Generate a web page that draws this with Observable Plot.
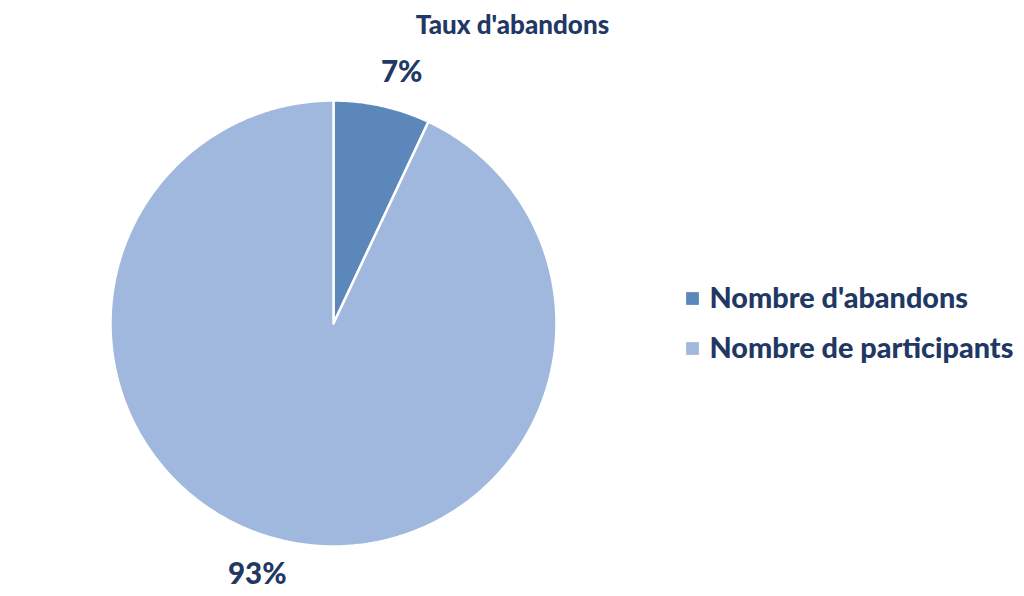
<!DOCTYPE html>
<html>
<head>
<meta charset="utf-8">
<script src="https://cdn.jsdelivr.net/npm/d3@7"></script>
<script src="https://cdn.jsdelivr.net/npm/@observablehq/plot@0.6"></script>
<style>
  html, body { margin: 0; padding: 0; background: #ffffff; }
  #chart svg { display: block; }
</style>
</head>
<body>
<div id="chart"></div>
<script>
// ---- data ----
const categories = ["Nombre d'abandons", "Nombre de participants"];
const shares = [7, 93];
const labels = ["7%", "93%"];
const colors = ["#5b87ba", "#a0b8dd"];
const title = "Taux d'abandons";

// ---- layout ----
const W = 1024, H = 596;
const cx = 333, cy = 323, R = 223;
const textColor = "#1f3864";
const font = "Lato, 'Open Sans', sans-serif";

// build slice polygons from the shares (clockwise from 12 o'clock)
const total = d3.sum(shares);
const slices = [];
const polys = [];
let acc = 0;
categories.forEach((name, i) => {
  const a0 = acc / total * 2 * Math.PI;
  acc += shares[i];
  const a1 = acc / total * 2 * Math.PI;
  slices.push({name, a0, a1, mid: (a0 + a1) / 2, label: labels[i], i});
  polys.push({name, x: 0, y: 0});
  const n = Math.max(2, Math.ceil((a1 - a0) / (Math.PI / 360)));
  for (let k = 0; k <= n; k++) {
    const a = a0 + (a1 - a0) * k / n;
    polys.push({name, x: Math.sin(a), y: Math.cos(a)});
  }
  polys.push({name, x: 0, y: 0});
});

const labelR = 1.155;
const labelDx = [12, -20];
const labelMarks = slices.map(s => Plot.text([s], {
  x: d => labelR * Math.sin(d.mid),
  y: d => labelR * Math.cos(d.mid),
  text: "label",
  dx: labelDx[s.i],
  lineAnchor: "middle",
  fontSize: 29.5,
  fontWeight: 900,
  fill: textColor
}));

const legendMarks = [];
categories.forEach((name, i) => {
  legendMarks.push(Plot.dot([name], {
    frameAnchor: "top-left", dx: 692, dy: 298 + i * 50,
    symbol: "square", r: 7.2, fill: colors[i], stroke: "none"
  }));
  legendMarks.push(Plot.text([name], {
    frameAnchor: "top-left", dx: 709, dy: 298 + i * 50,
    text: d => d, textAnchor: "start", lineAnchor: "middle",
    fontSize: 28.8, fontWeight: 900, fill: textColor
  }));
});

const chart = Plot.plot({
  width: W,
  height: H,
  margin: 0,
  style: {fontFamily: font, background: "#ffffff"},
  x: {domain: [-1, 1], range: [cx - R, cx + R], axis: null},
  y: {domain: [-1, 1], range: [cy + R, cy - R], axis: null},
  color: {domain: categories, range: colors},
  marks: [
    Plot.line(polys, {
      x: "x", y: "y", z: "name",
      fill: "name",
      stroke: "#ffffff", strokeWidth: 2.5, strokeLinejoin: "round",
      curve: "linear"
    }),
    ...labelMarks,
    Plot.text([title], {
      frameAnchor: "top", dy: 25, text: d => d, lineAnchor: "middle",
      fontSize: 26, fontWeight: 900, fill: textColor
    }),
    ...legendMarks
  ]
});
document.getElementById("chart").appendChild(chart);
</script>
</body>
</html>
